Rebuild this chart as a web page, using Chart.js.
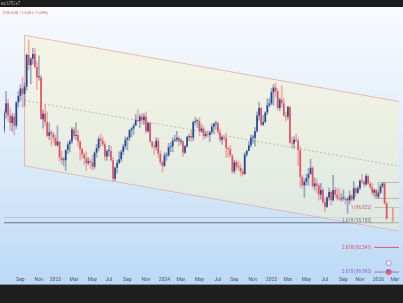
<!DOCTYPE html>
<html>
<head>
<meta charset="utf-8">
<script src="https://cdn.jsdelivr.net/npm/chart.js@4.4.1/dist/chart.umd.min.js"></script>
<style>
  html, body { margin: 0; padding: 0; background: #1f1f1f; }
  #wrap { width: 403px; height: 303px; }
</style>
</head>
<body>
<div id="wrap"><canvas id="chart" width="403" height="303"></canvas></div>
<script>
// weekly candles, DXY, from the week of 4 Jul 2022
var opens = [
  105.1,107.0,108.0,106.7,105.9,106.6,105.6,108.1,108.8,109.6,
  109.0,109.8,113.2,112.1,112.8,113.3,111.9,110.8,110.8,106.3,
  106.9,106.0,104.5,104.9,104.7,104.3,103.5,103.9,102.2,101.9,
  101.9,103.0,103.6,103.9,105.2,104.5,104.6,103.9,103.1,102.5,
  102.1,101.6,101.8,101.7,101.2,102.7,103.2,104.2,104.0,103.6,
  102.3,102.9,102.9,101.9,99.9,101.1,101.6,102.0,102.8,103.4,
  104.1,104.3,105.1,105.3,105.6,106.2,106.1,106.6,106.2,106.6,
  105.0,105.9,103.9,103.4,103.3,104.0,102.6,101.7,101.3,102.4,
  102.4,103.3,103.4,104.0,104.1,104.3,103.9,103.9,102.7,103.4,
  104.4,104.5,104.3,106.0,106.1,106.1,105.0,105.3,104.5,104.7,
  104.6,104.9,105.5,105.8,105.9,104.9,104.1,104.4,104.3,103.2,
  103.1,102.4,100.7,101.7,101.2,101.1,100.7,100.4,102.5,102.9,
  103.5,104.3,104.3,105.0,106.7,107.5,105.7,106.0,107.0,107.8,
  108.0,109.2,109.7,109.3,107.5,108.4,108.0,106.7,106.6,107.6,
  103.8,103.7,104.1,104.0,103.0,100.1,99.2,99.6,100.0,100.4,
  101.1,99.1,99.4,99.2,98.2,98.7,97.4,96.9,97.9,98.5,
  97.6,98.7,98.2,97.8,97.7,97.8,97.8,97.6,97.6,98.1,
  97.7,98.9,98.4,98.9,99.7,99.6,99.3,100.2,99.4,99.0,
  98.4,98.7,98.0,98.4,99.1,99.4,97.26
];
var highs = [
  107.3,109.3,108.4,107.4,106.9,106.9,108.2,109.3,110.0,110.8,
  110.2,113.3,114.8,112.9,113.9,113.9,112.5,113.1,111.0,107.3,
  107.9,107.1,105.9,105.1,104.9,104.6,105.6,103.9,102.9,102.2,
  103.0,103.9,104.1,105.4,105.4,105.9,105.1,104.0,103.2,102.7,
  102.8,102.2,102.0,102.4,102.8,103.6,104.4,104.7,104.4,103.9,
  103.0,103.5,103.4,102.2,101.2,101.9,102.8,103.0,103.6,104.4,
  104.4,105.2,105.4,105.8,106.8,107.3,106.8,106.9,106.9,107.1,
  106.0,106.0,103.9,103.8,104.3,104.3,102.9,101.8,102.7,102.7,
  103.7,103.8,104.3,104.6,105.0,104.4,104.2,104.0,103.5,104.5,
  104.7,105.1,106.1,106.5,106.3,106.5,105.7,105.5,105.0,105.1,
  105.0,105.8,105.9,106.1,106.0,105.2,104.5,104.6,104.8,103.3,
  103.5,102.5,101.9,101.9,101.8,101.5,101.0,102.7,103.0,103.9,
  104.6,104.6,105.4,107.1,108.1,107.6,106.7,107.1,108.5,108.5,
  109.6,110.0,110.2,109.6,108.6,109.9,108.5,107.1,107.7,107.7,
  104.4,104.4,104.7,104.3,103.4,100.3,99.9,100.4,101.0,102.0,
  101.2,100.0,99.9,99.4,99.4,98.9,97.8,98.0,98.9,98.6,
  100.3,99.0,98.9,98.8,98.3,98.7,98.0,97.9,98.6,98.2,
  99.6,99.0,99.1,99.8,100.4,99.8,100.4,100.3,99.6,99.4,
  98.8,98.8,98.5,99.3,99.5,99.5,97.4
];
var lows = [
  104.8,106.4,106.1,105.1,105.0,104.6,105.3,107.6,108.3,107.6,
  107.7,109.4,111.6,110.1,112.2,111.8,109.5,110.5,106.3,105.3,
  105.6,104.4,104.1,103.4,103.8,103.4,103.4,101.8,101.5,101.3,
  100.8,102.6,102.8,103.7,104.3,104.1,103.4,101.9,102.1,101.4,
  100.8,101.4,101.0,100.8,101.0,102.2,102.9,103.4,103.4,101.9,
  101.9,102.3,101.8,99.6,99.7,100.5,101.5,101.7,102.5,103.1,
  103.0,104.0,104.4,104.7,105.6,106.0,105.4,105.8,105.7,104.8,
  104.9,103.8,103.2,102.5,103.0,102.2,101.4,100.6,101.2,101.9,
  102.3,102.8,102.8,103.9,103.9,103.4,103.6,102.3,102.6,103.3,
  104.0,103.9,104.0,105.7,105.4,104.5,104.9,104.1,104.3,104.4,
  103.9,104.7,104.8,105.2,104.8,103.9,103.6,104.0,102.2,102.2,
  102.3,100.5,100.5,100.9,100.8,100.2,100.2,100.4,102.3,102.9,
  103.3,103.7,103.4,104.9,106.2,105.6,105.6,105.9,106.8,107.6,
  107.8,107.8,108.7,107.3,107.2,107.6,106.6,106.1,106.3,103.7,
  103.2,103.2,103.9,101.3,99.0,98.9,97.9,99.2,99.2,100.4,
  99.0,98.7,98.4,97.6,97.7,97.3,96.4,96.8,97.6,97.1,
  97.5,97.9,97.6,97.6,97.5,97.6,97.2,96.2,97.2,97.5,
  97.6,98.0,98.3,98.7,99.4,99.0,99.2,99.3,98.8,98.2,
  98.0,97.8,97.8,98.3,98.9,97.2,95.55
];
var closes = [
  107.0,108.0,106.7,105.9,106.6,105.6,108.1,108.8,109.6,109.0,
  109.8,113.2,112.1,112.8,113.3,111.9,110.8,110.8,106.3,106.9,
  106.0,104.5,104.9,104.7,104.3,103.5,103.9,102.2,101.9,101.9,
  103.0,103.6,103.9,105.2,104.5,104.6,103.9,103.1,102.5,102.1,
  101.6,101.8,101.7,101.2,102.7,103.2,104.2,104.0,103.6,102.3,
  102.9,102.9,101.9,99.9,101.1,101.6,102.0,102.8,103.4,104.1,
  104.3,105.1,105.3,105.6,106.2,106.1,106.6,106.2,106.6,105.0,
  105.9,103.9,103.4,103.3,104.0,102.6,101.7,101.3,102.4,102.4,
  103.3,103.4,104.0,104.1,104.3,103.9,103.9,102.7,103.4,104.4,
  104.5,104.3,106.0,106.1,106.1,105.0,105.3,104.5,104.7,104.6,
  104.9,105.5,105.8,105.9,104.9,104.1,104.4,104.3,103.2,103.1,
  102.4,100.7,101.7,101.2,101.1,100.7,100.4,102.5,102.9,103.5,
  104.3,104.3,105.0,106.7,107.5,105.7,106.0,107.0,107.8,108.0,
  109.2,109.7,109.3,107.5,108.4,108.0,106.7,106.6,107.6,103.8,
  103.7,104.1,104.0,103.0,100.1,99.2,99.6,100.0,100.4,101.1,
  99.1,99.4,99.2,98.2,98.7,97.4,96.9,97.9,98.5,97.6,
  98.7,98.2,97.8,97.7,97.8,97.8,97.6,97.6,98.1,97.7,
  98.9,98.4,98.9,99.7,99.6,99.3,100.2,99.4,99.0,98.4,
  98.7,98.0,98.4,99.1,99.4,97.26,95.63
];

// drawn channel (start / end week) and fibonacci extension
var channelWeeks = ['2022-09-12', '2026-03-09'];
var channelUpper = [115.3, 108.2];
var channelMid = [108.3, 101.25];
var channelLower = [101.3, 94.3];

var fibRatios = ['1', '1.618', '2.618', '3.618'];
var fibPrices = [96.822, 95.185, 92.541, 89.895];
var boxPrices = [99.51, 97.79];

var monthNames = ['Jan','Feb','Mar','Apr','May','Jun','Jul','Aug','Sep','Oct','Nov','Dec'];

var weeks = [];
var t0 = Date.UTC(2022, 6, 4);
for (var i = 0; i < 193; i++) {
  weeks.push(new Date(t0 + i * 7 * 86400000).toISOString().slice(0, 10));
}
var lastWeek = weeks[weeks.length - 1];

function tickLabel(i) {
  var d = new Date(weeks[i] + 'T00:00:00Z');
  var e = new Date(d.getTime() + 6 * 86400000);
  var m;
  if (d.getUTCDate() === 1) m = d;
  else if (e.getUTCMonth() !== d.getUTCMonth()) m = e;
  else return '';
  var mo = m.getUTCMonth();
  if (mo % 2 !== 0) return '';
  return mo === 0 ? String(m.getUTCFullYear()) : monthNames[mo];
}

var upCol = '#27468f', downCol = '#e5525d';
function isUp(i) { return closes[i] >= opens[i]; }

function seg(x1, x2, y1, y2, color, width, extra) {
  var ds = {
    type: 'line',
    data: [{ x: x1, y: y1 }, { x: x2, y: y2 }],
    borderColor: color,
    borderWidth: width,
    pointRadius: 0,
    fill: false,
    order: 5
  };
  for (var k in extra) ds[k] = extra[k];
  return ds;
}

var datasets = [
  {
    type: 'bar',
    data: opens.map(function (o, i) { return [o, closes[i]]; }),
    backgroundColor: function (c) { return isUp(c.dataIndex) ? upCol : downCol; },
    barPercentage: 0.8,
    categoryPercentage: 1,
    minBarLength: 1,
    grouped: false,
    order: 0
  },
  {
    type: 'bar',
    data: lows.map(function (l, i) { return [l, highs[i]]; }),
    backgroundColor: function (c) { return isUp(c.dataIndex) ? 'rgba(70,100,160,0.5)' : 'rgba(232,120,130,0.55)'; },
    barThickness: 1,
    grouped: false,
    order: 1
  },
  seg(channelWeeks[0], channelWeeks[1], channelUpper[0], channelUpper[1], 'rgba(222,150,145,0.6)', 1,
      { fill: '+1', backgroundColor: 'rgba(248,240,195,0.42)' }),
  seg(channelWeeks[0], channelWeeks[1], channelLower[0], channelLower[1], 'rgba(215,140,145,0.6)', 1),
  seg(channelWeeks[0], channelWeeks[1], channelMid[0], channelMid[1], 'rgba(120,132,150,0.8)', 1, { borderDash: [2, 2] }),
  seg(channelWeeks[0], channelWeeks[0], channelUpper[0], channelLower[0], 'rgba(228,175,165,0.55)', 1),
  seg(weeks[0], lastWeek, 95.75, 95.75, 'rgba(160,160,185,0.4)', 1),
  seg(weeks[0], lastWeek, fibPrices[1], fibPrices[1], '#6b7480', 1.2),
  seg(weeks[180], lastWeek, fibPrices[0], fibPrices[0], '#9aa1aa', 1),
  seg(weeks[180], lastWeek, fibPrices[2], fibPrices[2], '#e25563', 1),
  seg(weeks[180], lastWeek, fibPrices[3], fibPrices[3], '#9b6fcf', 1),
  seg(weeks[182], lastWeek, boxPrices[0], boxPrices[0], '#8d949c', 1),
  seg(weeks[180], lastWeek, boxPrices[1], boxPrices[1], '#8d949c', 1),
  seg(weeks[182], weeks[182], boxPrices[0], boxPrices[1], '#8d949c', 1),
  seg(weeks[189], weeks[189], fibPrices[0], fibPrices[1] + 0.25, '#e25563', 1,
      { pointStyle: 'triangle', pointRadius: [0, 2], pointRotation: 180, pointBackgroundColor: '#e25563', pointBorderWidth: 0 })
];

var backdrop = {
  id: 'backdrop',
  beforeDraw: function (chart) {
    var c = chart.ctx;
    c.save();
    c.fillStyle = '#1c1c1e';
    c.fillRect(0, 0, 403, 7);
    var g = c.createLinearGradient(0, 7, 0, 284);
    g.addColorStop(0, '#f8fafd');
    g.addColorStop(0.45, '#e2eefa');
    g.addColorStop(1, '#bcd9f6');
    c.fillStyle = g;
    c.fillRect(0, 7, 403, 277);
    c.fillStyle = '#1f1f1f';
    c.fillRect(0, 285, 403, 18);
    c.fillStyle = '#7e8b9a';
    c.fillRect(0, 284, 403, 1);
    c.restore();
  },
  afterDatasetsDraw: function (chart) {
    var c = chart.ctx, xs = chart.scales.x, ys = chart.scales.y;
    var colors = ['#c0606a', '#6b7a90', '#d9505e', '#8a66c8'];
    c.save();
    c.font = '4.5px Roboto, sans-serif';
    c.textAlign = 'right';
    c.textBaseline = 'middle';
    var xr = xs.getPixelForValue(180) - 3;
    fibRatios.forEach(function (r, i) {
      c.fillStyle = colors[i];
      c.fillText(r + ' (' + fibPrices[i].toFixed(3) + ')', xr, ys.getPixelForValue(fibPrices[i]) - (i === 1 ? 1.5 : 0));
    });
    // small markers at the bottom
    var mx = xs.getPixelForValue(187);
    var my = ys.getPixelForValue(fibPrices[3]);
    c.lineWidth = 0.8;
    c.strokeStyle = '#a27ad0';
    c.fillStyle = '#f4eefa';
    c.beginPath(); c.arc(mx, my - 9, 2.5, 0, Math.PI * 2); c.fill(); c.stroke();
    c.fillStyle = '#e0646e';
    c.beginPath(); c.arc(mx, my, 3, 0, Math.PI * 2); c.fill();
    c.fillStyle = '#5a78c0';
    c.beginPath(); c.arc(mx - 1, my - 1, 1.3, 0, Math.PI * 2); c.fill();
    c.restore();
  },
  afterDraw: function (chart) {
    var c = chart.ctx;
    c.save();
    c.font = '4.5px Roboto, sans-serif';
    c.textBaseline = 'middle';
    c.fillStyle = '#a8a8a8';
    c.fillText('es UTC+7', 1, 3.5);
    c.font = '4px Roboto, sans-serif';
    c.fillStyle = '#e0606a';
    c.fillText('C95.630 \u22121.628 (\u22121.68%)', 3, 13);
    c.restore();
  }
};

new Chart(document.getElementById('chart').getContext('2d'), {
  type: 'bar',
  data: { labels: weeks, datasets: datasets },
  options: {
    responsive: false,
    animation: false,
    layout: { padding: { top: 7, bottom: 19, left: 0, right: 0 } },
    plugins: { legend: { display: false }, tooltip: { enabled: false } },
    scales: {
      x: {
        type: 'category',
        offset: false,
        grid: { display: false, drawTicks: false },
        border: { display: false },
        afterFit: function (axis) { axis.height = 9; },
        ticks: {
          autoSkip: false,
          maxRotation: 0,
          padding: 2,
          color: '#4d5563',
          font: { size: 5, family: 'Roboto, sans-serif' },
          callback: function (v, i) { return tickLabel(i); }
        }
      },
      y: { display: false, min: 89.58, max: 118.34 }
    }
  },
  plugins: [backdrop]
});
</script>
</body>
</html>
